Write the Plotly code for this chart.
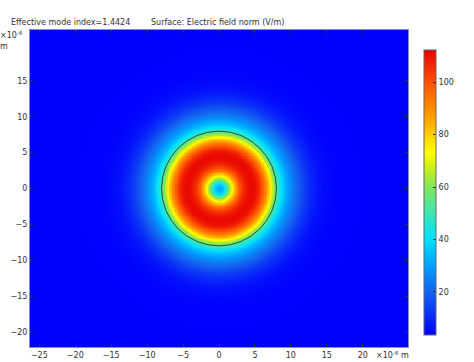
import numpy as np
import plotly.graph_objects as go

# Radial profile of the electric field norm (V/m)
radius_um = [0, 0.5, 1.0, 1.5, 2.0, 2.5, 3.0, 3.5, 4.0, 4.5, 5.0, 5.5, 6.0, 6.5, 7.0, 7.5,
             8.0, 8.5, 9.0, 10.0, 11.0, 12.0, 13.0, 14.0, 16.0, 20.0, 40.0]
field_norm = [30, 35, 48, 65, 80, 93, 102, 107, 110, 111, 110, 106, 99, 90, 78, 65,
              52, 42, 35, 26, 19, 13, 9, 6, 4, 3.5, 3.5]

core_radius_um = 8.0
x_ticks = [-25, -20, -15, -10, -5, 0, 5, 10, 15, 20]
y_ticks = [-20, -15, -10, -5, 0, 5, 10, 15]
cbar_ticks = [20, 40, 60, 80, 100]
title_left = "Effective mode index=1.4424"
title_right = "Surface: Electric field norm (V/m)"

xr = [-26.3, 26.3]
yr = [-22.1, 22.1]
cmin, cmax = 3.5, 112.3

xs = np.arange(xr[0], xr[1] + 0.2, 0.2)
ys = np.arange(yr[0], yr[1] + 0.2, 0.2)
X, Y = np.meshgrid(xs, ys)
R = np.hypot(X, Y)
Z = np.interp(R, radius_um, field_norm)

def stop(v):
    return (v - cmin) / (cmax - cmin)

colorscale = [
    [0.0, "rgb(0,0,255)"],
    [stop(20), "rgb(20,100,240)"],
    [stop(30), "rgb(0,160,255)"],
    [stop(40), "rgb(0,225,255)"],
    [stop(50), "rgb(60,230,180)"],
    [stop(60), "rgb(130,230,90)"],
    [stop(68), "rgb(210,240,20)"],
    [stop(73), "rgb(255,255,0)"],
    [stop(85), "rgb(255,170,0)"],
    [stop(100), "rgb(255,80,0)"],
    [1.0, "rgb(230,0,0)"],
]

font = dict(family="DejaVu Sans", size=8, color="#333333")

# plot area in pixels: x 30..408, y 30..347
def px(xp):
    return (xp - 30) / 378

def py(yp):
    return (347 - yp) / 317

fig = go.Figure(go.Heatmap(
    x=xs, y=ys, z=Z, zmin=cmin, zmax=cmax, colorscale=colorscale, zsmooth="best",
    colorbar=dict(
        thickness=12, thicknessmode="pixels", len=(335 - 50) / 317, lenmode="fraction",
        x=px(424), xanchor="left", xref="paper",
        y=py((50 + 335) / 2), yanchor="middle", yref="paper",
        tickvals=cbar_ticks, ticks="inside", ticklen=3, tickcolor="#333",
        outlinewidth=1, outlinecolor="#666", tickfont=font, ypad=0, xpad=0,
    ),
))

fig.add_shape(type="circle", x0=-core_radius_um, x1=core_radius_um,
              y0=-core_radius_um, y1=core_radius_um,
              line=dict(color="rgb(40,80,60)", width=1))

axis_common = dict(ticks="inside", ticklen=3, tickcolor="#333", mirror="allticks",
                   showline=True, linecolor="rgb(130,140,200)", linewidth=1,
                   showgrid=False, zeroline=False, tickfont=font, automargin=False)

fig.update_xaxes(range=xr, tickvals=x_ticks, **axis_common)
fig.update_yaxes(range=yr, tickvals=y_ticks, **axis_common)

annos = [
    dict(text=title_left, x=12, y=23),
    dict(text=title_right, x=152, y=23),
    dict(text="×10<sup>-6</sup>", x=1, y=35),
    dict(text="m", x=1, y=46),
    dict(text="×10<sup>-6</sup> m", x=377, y=355),
]
for a in annos:
    fig.add_annotation(text=a["text"], x=px(a["x"] - 3), y=py(a["y"]),
                       xref="paper", yref="paper", showarrow=False, font=font,
                       xanchor="left", yanchor="middle")

fig.update_layout(width=474, height=362, margin=dict(l=30, r=66, t=30, b=15, autoexpand=False),
                  paper_bgcolor="white", plot_bgcolor="white", font=font)

fig.write_html("out.html")
